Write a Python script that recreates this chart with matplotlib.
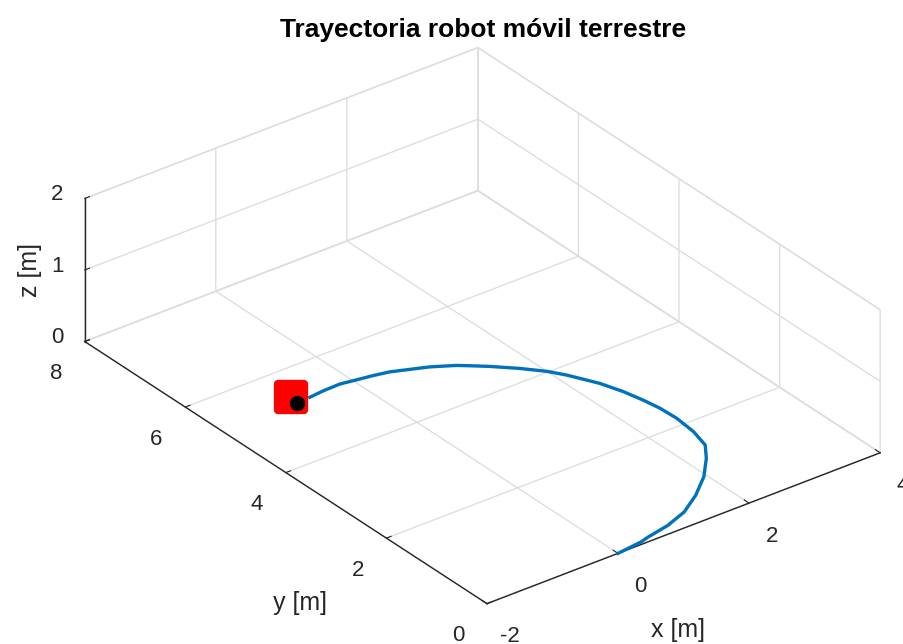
import numpy as np
import matplotlib
matplotlib.use("Agg")
import matplotlib.pyplot as plt
from matplotlib.markers import MarkerStyle

# trajectory of the ground robot on the floor plane (z = 0)
traj_x = [0.0, 0.39, 0.526, 0.889, 1.246, 1.603, 1.954, 2.249, 2.435, 2.52, 2.555, 2.542, 2.50,
          2.434, 2.33, 2.133, 2.0, 1.781, 1.52, 1.37, 1.22, 0.94, 0.674, 0.48, 0.268, 0.05,
          -0.175, -0.4345, -0.66]
traj_y = [0.0, 0.05, 0.091, 0.170, 0.308, 0.544, 0.840, 1.175, 1.440, 1.785, 2.164, 2.480, 2.76,
          3.072, 3.40, 3.807, 4.02, 4.278, 4.54, 4.672, 4.80, 4.97, 5.086, 5.17, 5.220, 5.26,
          5.303, 5.295, 5.27]
traj_z = [0.0] * len(traj_x)

# robot body and its reference point
robot_body = (-0.84, 5.41, 0.0)
robot_point = (-0.87, 5.25, 0.0)

x_ticks = [-2, 0, 2, 4]
y_ticks = [0, 2, 4, 6, 8]
z_ticks = [0, 1, 2]

txt = "#262626"
grid_col = "#dedede"
plt.rcParams["font.family"] = ["Liberation Sans", "DejaVu Sans"]
plt.rcParams["axes.unicode_minus"] = False

fig = plt.figure(figsize=(9.04, 6.44), dpi=100)
ax = fig.add_axes([0.1815, 0.0, 0.6858, 0.9627], projection="3d", computed_zorder=False)
ax.set_proj_type("ortho")
ax.view_init(elev=30, azim=-127.5)
ax.set_xlim(-2, 4)
ax.set_ylim(0, 8)
ax.set_zlim(0, 2)
ax.set_box_aspect((6, 8, 2), zoom=1.319)

for axis in (ax.xaxis, ax.yaxis, ax.zaxis):
    axis.set_pane_color((1, 1, 1, 1))
    axis.pane.set_edgecolor(grid_col)
    axis.line.set_color(txt)
    axis.line.set_linewidth(1.0)
    axis._axinfo["grid"]["color"] = grid_col
    axis._axinfo["grid"]["linewidth"] = 1.0
    axis._axinfo["tick"]["inward_factor"] = 0.0
    axis._axinfo["tick"]["outward_factor"] = 0.15
    axis._axinfo["tick"]["color"] = txt

ax.set_xticks(x_ticks)
ax.set_yticks(y_ticks)
ax.set_zticks(z_ticks)
ax.tick_params(labelsize=16, colors=txt)
ax.tick_params(axis="x", pad=5)
ax.tick_params(axis="y", pad=9)
ax.tick_params(axis="z", pad=0)
plt.setp(ax.get_zticklabels(), va="center")

ax.plot(traj_x, traj_y, traj_z, color="#0072BD", lw=2.4, zorder=3)
ax.plot([robot_body[0]], [robot_body[1]], [robot_body[2]], ls="none",
        marker=MarkerStyle("s", joinstyle="round"), ms=19, mfc="red", mec="red", mew=6, zorder=4)
ax.plot([robot_point[0]], [robot_point[1]], [robot_point[2]], ls="none",
        marker="o", ms=10, mfc="black", mec="black", zorder=5)

# axis names
fig.text(0.750, 0.022, "x [m]", ha="center", va="center", fontsize=18, color=txt)
fig.text(0.332, 0.064, "y [m]", ha="center", va="center", fontsize=18, color=txt)
fig.text(0.033, 0.581, "z [m]", ha="center", va="center", fontsize=18, color=txt, rotation=90)

fig.text(0.534, 0.953, "Trayectoria robot móvil terrestre", ha="center", va="center",
         fontsize=19, fontweight="bold", color="black")

fig.savefig("out.png", dpi=100)
